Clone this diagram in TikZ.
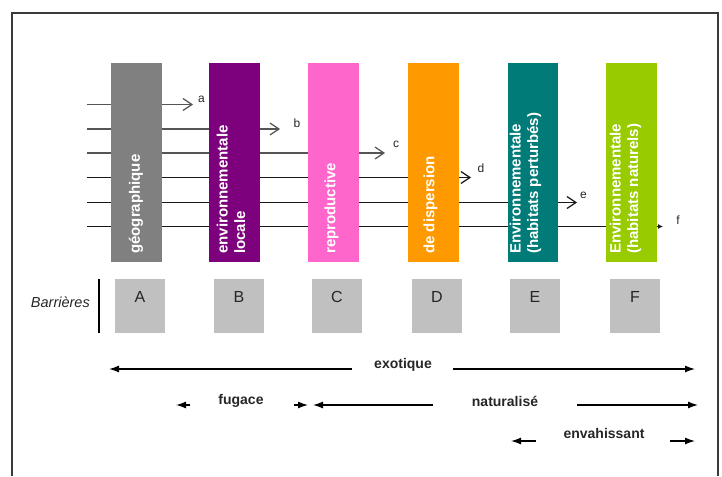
\documentclass[tikz,border=0pt]{standalone}
\usepackage{fontspec}
\setmainfont{Liberation Sans}
\usetikzlibrary{arrows.meta}
\definecolor{cA}{HTML}{808080}
\definecolor{cB}{HTML}{7D007D}
\definecolor{cC}{HTML}{FF66CC}
\definecolor{cD}{HTML}{FF9900}
\definecolor{cE}{HTML}{007B78}
\definecolor{cF}{HTML}{99CC00}
\definecolor{boxgray}{HTML}{C0C0C0}
\definecolor{framec}{HTML}{3A3A3A}
\definecolor{lineup}{HTML}{555555}
\definecolor{txtdark}{HTML}{262626}
\begin{document}
\begin{tikzpicture}[x=1pt,y=-1pt,
  bar/.style={draw=none, inner sep=0, minimum width=50.5pt, minimum height=199pt, anchor=north west},
  bartxt/.style={rotate=90, anchor=west, inner sep=0, text=white, align=left,
    font=\fontsize{15}{17.5}\selectfont\bfseries},
  gbox/.style={fill=boxgray, draw=none, inner sep=0, minimum width=50pt, minimum height=54pt, anchor=north west},
  boxlet/.style={inner sep=0, text=txtdark, font=\fontsize{16}{18}\selectfont},
  flowup/.style={draw=lineup, line width=1.2pt, -{Straight Barb[length=9pt,width=12pt,line width=1.2pt]}},
  flowdn/.style={draw=black!90, line width=1.2pt, -{Straight Barb[length=9pt,width=12pt,line width=1.2pt]}},
  lbl/.style={inner sep=0, text=txtdark, font=\fontsize{12}{14}\selectfont},
  btxt/.style={inner sep=0, text=txtdark, font=\fontsize{14}{16}\selectfont\bfseries},
  barr/.style={draw=black, line width=1.3pt, -{Latex[length=10pt,width=7pt]}}
]
\useasboundingbox (0,0) rectangle (722,476);
% frame
\draw[framec, line width=1.4pt] (12,476) -- (12,13) -- (718,13) -- (718,476);

% flow lines (behind bars)
\coordinate (s1) at (87,104.5); \coordinate (t1) at (193,104.5);
\coordinate (s2) at (87,129);   \coordinate (t2) at (280,129);
\coordinate (s3) at (87,153);   \coordinate (t3) at (385,153);
\coordinate (s4) at (87,177.5); \coordinate (t4) at (471,177.5);
\coordinate (s5) at (87,202.5); \coordinate (t5) at (577,202.5);
\coordinate (s6) at (87,226.5); \coordinate (t6) at (663,226.5);
\draw[flowup] (s1) -- (t1);
\draw[flowup] (s2) -- (t2);
\draw[flowup] (s3) -- (t3);
\draw[flowdn] (s4) -- (t4);
\draw[flowdn] (s5) -- (t5);
\draw[draw=black!90, line width=1.2pt, -{Latex[length=5pt,width=5pt]}] (s6) -- (t6);

\node[lbl] (la) at (201.5,99) {a};
\node[lbl] (lb) at (297,123) {b};
\node[lbl] (lc) at (396,144) {c};
\node[lbl] (ld) at (481,168) {d};
\node[lbl] (le) at (583.5,195) {e};
\node[lbl] (lf) at (678,220.5) {f};

% bars
\node[bar, fill=cA] (bA) at (111,63) {};
\node[bar, fill=cB] (bB) at (209,63) {};
\node[bar, fill=cC] (bC) at (308,63) {};
\node[bar, fill=cD] (bD) at (408,63) {};
\node[bar, fill=cE] (bE) at (507.5,63) {};
\node[bar, fill=cF] (bF) at (606,63) {};

\node[bartxt] (tA) at (136,254) {géographique};
\node[bartxt] (tB) at (231,254) {environnementale\\locale};
\node[bartxt] (tC) at (331.5,254) {reproductive};
\node[bartxt] (tD) at (430.5,254) {de dispersion};
\node[bartxt] (tE) at (525.5,254) {Environnementale\\(habitats perturbés)};
\node[bartxt] (tF) at (625.5,254) {Environnementale\\(habitats naturels)};

% barriers row
\node[inner sep=0, anchor=east, text=txtdark, font=\fontsize{14.5}{16}\selectfont\itshape] (barr) at (90,302) {Barrières};
\coordinate (vt) at (99,279); \coordinate (vb) at (99,333);
\draw[black, line width=1.1pt] (vt) -- (vb);

\node[gbox] (gA) at (115,279) {};
\node[gbox] (gB) at (214,279) {};
\node[gbox] (gC) at (312,279) {};
\node[gbox] (gD) at (412,279) {};
\node[gbox] (gE) at (510,279) {};
\node[gbox] (gF) at (610,279) {};
\node[boxlet] (lA) at (140,297) {A};
\node[boxlet] (lB) at (239,297) {B};
\node[boxlet] (lC) at (337,297) {C};
\node[boxlet] (lD) at (437,297) {D};
\node[boxlet] (lE) at (535,297) {E};
\node[boxlet] (lF) at (635,297) {F};

% bottom categories
\node[btxt] (exo) at (403,365) {exotique};
\coordinate (exL1) at (352,369); \coordinate (exL2) at (109,369);
\coordinate (exR1) at (453,369); \coordinate (exR2) at (695,369);
\draw[barr] (exL1) -- (exL2);
\draw[barr] (exR1) -- (exR2);

\node[btxt] (fug) at (241,401) {fugace};
\coordinate (fuL1) at (190,405); \coordinate (fuL2) at (176,405);
\coordinate (fuR1) at (294,405); \coordinate (fuR2) at (308,405);
\draw[barr] (fuL1) -- (fuL2);
\draw[barr] (fuR1) -- (fuR2);

\node[btxt] (nat) at (505,401) {naturalisé};
\coordinate (naL1) at (433,405); \coordinate (naL2) at (313,405);
\coordinate (naR1) at (577,405); \coordinate (naR2) at (698,405);
\draw[barr] (naL1) -- (naL2);
\draw[barr] (naR1) -- (naR2);

\node[btxt] (env) at (604,433) {envahissant};
\coordinate (enL1) at (536,441); \coordinate (enL2) at (511,441);
\coordinate (enR1) at (670,441); \coordinate (enR2) at (695,441);
\draw[barr] (enL1) -- (enL2);
\draw[barr] (enR1) -- (enR2);
\end{tikzpicture}
\end{document}
